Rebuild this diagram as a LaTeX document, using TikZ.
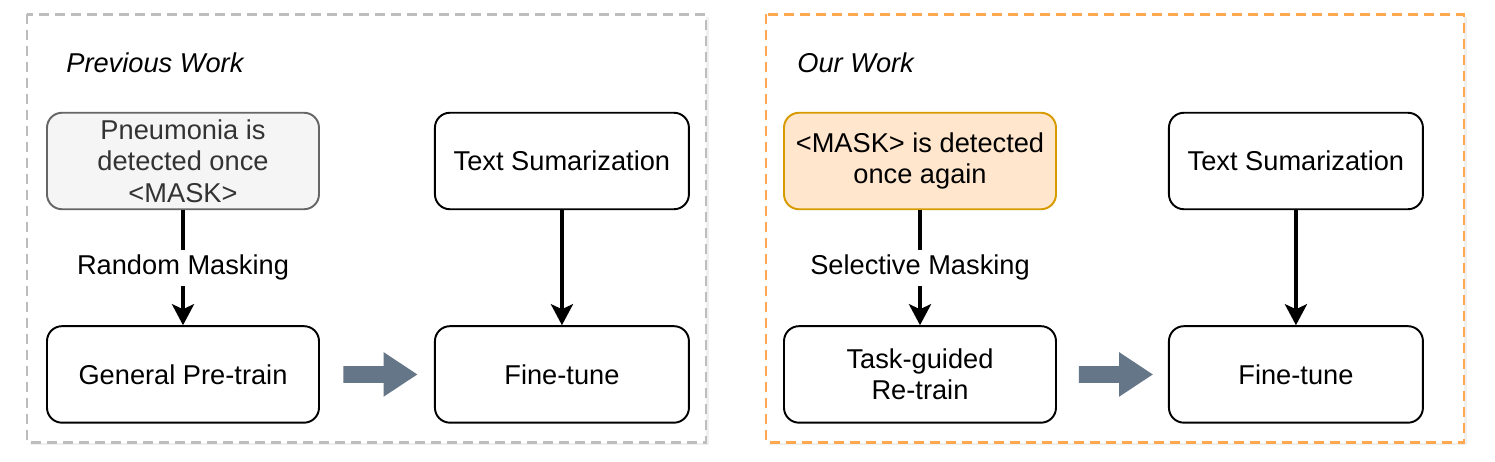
\documentclass[tikz,border=0pt]{standalone}
\usepackage{fontspec}
\setmainfont{Liberation Sans}
\usepackage{tikz}
\usetikzlibrary{arrows.meta,positioning,shapes.arrows,shadows}
\definecolor{framegrey}{HTML}{BDBDBD}
\definecolor{frameorange}{HTML}{FFA84F}
\definecolor{maskfill}{HTML}{F5F5F5}
\definecolor{maskdraw}{HTML}{666666}
\definecolor{masktext}{HTML}{333333}
\definecolor{selfill}{HTML}{FFE6CC}
\definecolor{seldraw}{HTML}{D79B00}
\definecolor{arrowgrey}{HTML}{647687}

\begin{document}
\begin{tikzpicture}[font = \fontsize{15.5}{18}\selectfont,
						frame/.style = {dash pattern = on 0.2cm off 0.12cm, line width = 1.4pt, fill = white,
							drop shadow = {opacity = 0.12, shadow xshift = 0.05cm, shadow yshift = -0.05cm}},
						stage/.style = {rectangle, draw, rounded corners = 0.3cm, line width = 1.1pt, fill = white,
							minimum width = 5.08cm, minimum height = 1.93cm, align = center},
						source/.style = {stage, minimum width = 5.44cm},
						flow/.style = {-{Stealth[length = 0.42cm, width = 0.44cm, inset = 0.1cm]}, line width = 2.2pt},
						flowlabel/.style = {fill = white, inner sep = 3pt},
						bigarrow/.style = {single arrow, fill = arrowgrey, inner xsep = 0pt, inner ysep = 0.16cm, xshift = -0.06cm,
							minimum height = 1.48cm, single arrow head extend = 0.28cm, single arrow tip angle = 67},
						heading/.style = {anchor = west, inner sep = 0pt, font = \fontsize{15.5}{18}\selectfont\itshape}]
		\useasboundingbox (0,0) rectangle (29.9,-9.24);
		% Frames
		\draw [frame, draw = framegrey] (0.54,-0.29) rectangle (14.12,-8.85);
		\draw [frame, draw = frameorange] (15.32,-0.29) rectangle (29.28,-8.85);
		% Start of Previous Work
		\node (prevtitle) at (1.32,-1.26) [heading] {Previous Work};
		\node (pneumonia) at (3.66,-3.22) [source, fill = maskfill, draw = maskdraw, text = masktext] {Pneumonia is\\detected once\\<MASK>};
		\node (textsum1) [stage, right = 2.28cm of pneumonia] {Text Sumarization};
		\node (pretrain) [source, below = 2.3cm of pneumonia] {General Pre-train};
		\node (finetune1) [stage, below = 2.3cm of textsum1] {Fine-tune};
		\draw [flow] (pneumonia) -- node [flowlabel] {Random Masking} (pretrain);
		\draw [flow] (textsum1) -- (finetune1);
		\path (pretrain.east) -- node (step1) [bigarrow] {} (finetune1.west);
		% Start of Our Work
		\node (ourtitle) at (15.94,-1.26) [heading] {Our Work};
		\node (selective) at (18.4,-3.22) [source, fill = selfill, draw = seldraw] {<MASK> is detected\\once again};
		\node (textsum2) [stage, right = 2.22cm of selective] {Text Sumarization};
		\node (retrain) [source, below = 2.3cm of selective] {Task-guided\\Re-train};
		\node (finetune2) [stage, below = 2.3cm of textsum2] {Fine-tune};
		\draw [flow] (selective) -- node [flowlabel] {Selective Masking} (retrain);
		\draw [flow] (textsum2) -- (finetune2);
		\path (retrain.east) -- node (step2) [bigarrow] {} (finetune2.west);
	\end{tikzpicture}
\end{document}
